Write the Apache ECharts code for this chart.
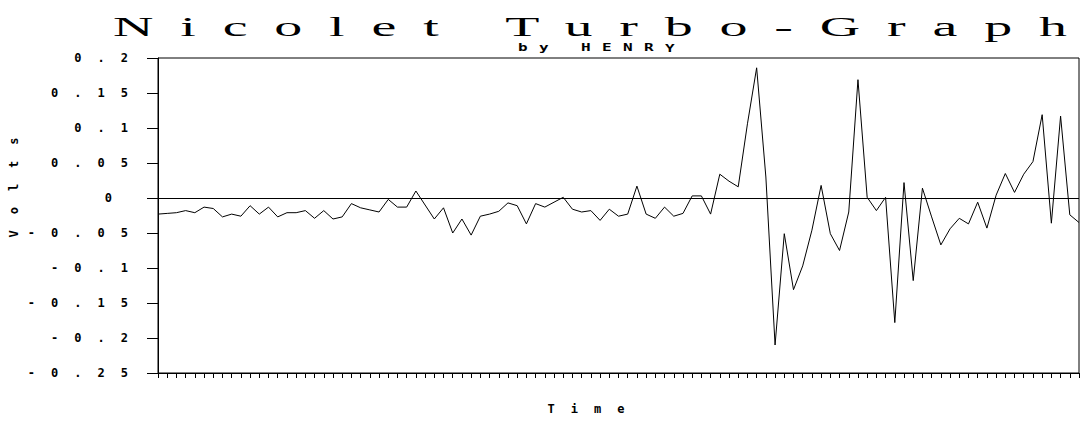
<!DOCTYPE html>
<html>
<head>
<meta charset="utf-8">
<script src="https://cdn.jsdelivr.net/npm/echarts@6/dist/echarts.min.js"></script>
<style>
  html, body { margin: 0; padding: 0; background: #fff; }
  #chart { width: 1085px; height: 423px; }
</style>
</head>
<body>
<div id="chart"></div>
<script>
// ---- text ----
const TITLE = 'Nicolet Turbo-Graph';
const SUBTITLE = 'by HENRY';
const X_NAME = 'Time';
const Y_NAME = 'Volts';

// ---- y axis scale ----
const yMin = -0.25;
const yMax = 0.2;
const yStep = 0.05;

// ---- series values (one per time step) ----
const volts = [
  -0.023, -0.022, -0.021, -0.018, -0.021, -0.013, -0.015, -0.027, -0.023, -0.026,
  -0.011, -0.023, -0.013, -0.027, -0.021, -0.021, -0.018, -0.029, -0.018, -0.030,
  -0.027, -0.008, -0.014, -0.017, -0.020, -0.002, -0.013, -0.013,  0.010, -0.010,
  -0.030, -0.014, -0.050, -0.030, -0.053, -0.026, -0.023, -0.019, -0.007, -0.011,
  -0.037, -0.008, -0.013, -0.006,  0.001, -0.016, -0.020, -0.018, -0.032, -0.016,
  -0.026, -0.023,  0.017, -0.023, -0.029, -0.013, -0.026, -0.022,  0.003,  0.003,
  -0.023,  0.034,  0.024,  0.016,  0.106,  0.186,  0.030, -0.210, -0.051, -0.131,
  -0.097, -0.046,  0.018, -0.051, -0.075, -0.020,  0.169,  0.001, -0.018,  0.001,
  -0.178,  0.022, -0.118,  0.014, -0.027, -0.067, -0.044, -0.029, -0.037, -0.006,
  -0.043,  0.004,  0.035,  0.008,  0.034,  0.052,  0.119, -0.036,  0.117, -0.024,
  -0.035
];
// time step categories (indices of the samples)
const times = volts.map((_, i) => i);

const TITLE_FONT_FAMILY = 'Liberation Serif';
const TITLE_FONT_SIZE = 28;
const TITLE_SCALE_X = 2.0;
const TITLE_LEFT = 113;
const TITLE_RIGHT = 1068;

// letter spacing so that the plotter-style title spans the page as in the original
function titleSpacing() {
  const c = document.createElement('canvas').getContext('2d');
  c.font = TITLE_FONT_SIZE + "px '" + TITLE_FONT_FAMILY + "'";
  const w = c.measureText(TITLE).width;
  return ((TITLE_RIGHT - TITLE_LEFT) / TITLE_SCALE_X - w) / (TITLE.length - 1);
}
const TITLE_LS = titleSpacing();

const dom = document.getElementById('chart');
const chart = echarts.init(dom, null, { renderer: 'svg' });

const option = {
  animation: false,
  backgroundColor: '#fff',
  graphic: [
    {
      type: 'text', x: TITLE_LEFT, y: 27, scaleX: TITLE_SCALE_X, silent: true,
      style: {
        text: TITLE, fontFamily: TITLE_FONT_FAMILY, fontSize: TITLE_FONT_SIZE, fontWeight: 'normal',
        fill: '#000', align: 'left', verticalAlign: 'middle'
      }
    },
    {
      type: 'text', x: 518, y: 48, scaleX: 1.6, silent: true,
      style: {
        text: SUBTITLE, fontFamily: 'DejaVu Sans Mono', fontSize: 10, fontWeight: 'bold',
        fill: '#000', align: 'left', verticalAlign: 'middle'
      }
    }
  ],
  grid: {
    left: 158, right: 6, top: 58, bottom: 50,
    show: true, borderColor: '#000', borderWidth: 1, backgroundColor: 'transparent'
  },
  xAxis: {
    type: 'category',
    data: times,
    boundaryGap: false,
    name: X_NAME,
    nameLocation: 'middle',
    nameGap: 30,
    nameTextStyle: { color: '#000', fontFamily: 'DejaVu Sans Mono', fontWeight: 'bold', fontSize: 12, padding: [0, 65, 0, 0] },
    axisLine: { onZero: false, lineStyle: { color: '#000', width: 1 } },
    axisTick: { show: true, interval: 0, length: 5, lineStyle: { color: '#000' } },
    axisLabel: { show: false },
    splitLine: { show: false }
  },
  yAxis: {
    type: 'value',
    min: yMin, max: yMax, interval: yStep,
    name: Y_NAME,
    nameLocation: 'middle',
    nameRotate: 90,
    nameGap: 138,
    nameTextStyle: { color: '#000', fontFamily: 'DejaVu Sans Mono', fontWeight: 'bold', fontSize: 12, padding: [0, 0, 0, 56] },
    axisLine: { show: true, lineStyle: { color: '#000', width: 1 } },
    axisTick: { show: true, length: 11, lineStyle: { color: '#000' } },
    axisLabel: {
      color: '#000', fontFamily: 'DejaVu Sans Mono', fontWeight: 'bold', fontSize: 12, margin: 30,
      formatter: v => String(parseFloat(v.toFixed(2)))
    },
    splitLine: { show: false }
  },
  series: [{
    type: 'line',
    data: volts,
    showSymbol: false,
    symbol: 'none',
    lineStyle: { color: '#000', width: 1 },
    markLine: {
      silent: true, symbol: 'none',
      label: { show: false },
      lineStyle: { color: '#000', type: 'solid', width: 1 },
      data: [{ yAxis: 0 }]
    }
  }]
};
chart.setOption(option);

// wide plotter-style letter spacing (no trailing space after the last character)
const spacingRules = [
  [t => t === TITLE, TITLE_LS],
  [t => t === SUBTITLE, 7.1],
  [t => t === X_NAME, 16],
  [t => t === Y_NAME, 16],
  [t => /^-?\d/.test(t), 16]
];
function applySpacing() {
  dom.querySelectorAll('text').forEach(el => {
    if (el.getAttribute('data-spaced')) return;
    const t = el.textContent;
    const tt = t.trim();
    for (const [f, ls] of spacingRules) {
      if (f(tt)) {
        el.setAttribute('letter-spacing', ls.toFixed(2));
        if (el.childNodes.length === 1 && el.firstChild.nodeType === 3 && t.length > 1) {
          const ns = 'http://www.w3.org/2000/svg';
          const head = document.createTextNode(t.slice(0, -1));
          const tail = document.createElementNS(ns, 'tspan');
          tail.setAttribute('letter-spacing', '0');
          tail.textContent = t.slice(-1);
          el.replaceChild(head, el.firstChild);
          el.appendChild(tail);
        }
        el.setAttribute('data-spaced', '1');
        break;
      }
    }
  });
}
chart.on('finished', applySpacing);
applySpacing();
requestAnimationFrame(applySpacing);
setTimeout(applySpacing, 0);
setTimeout(applySpacing, 100);
</script>
</body>
</html>
